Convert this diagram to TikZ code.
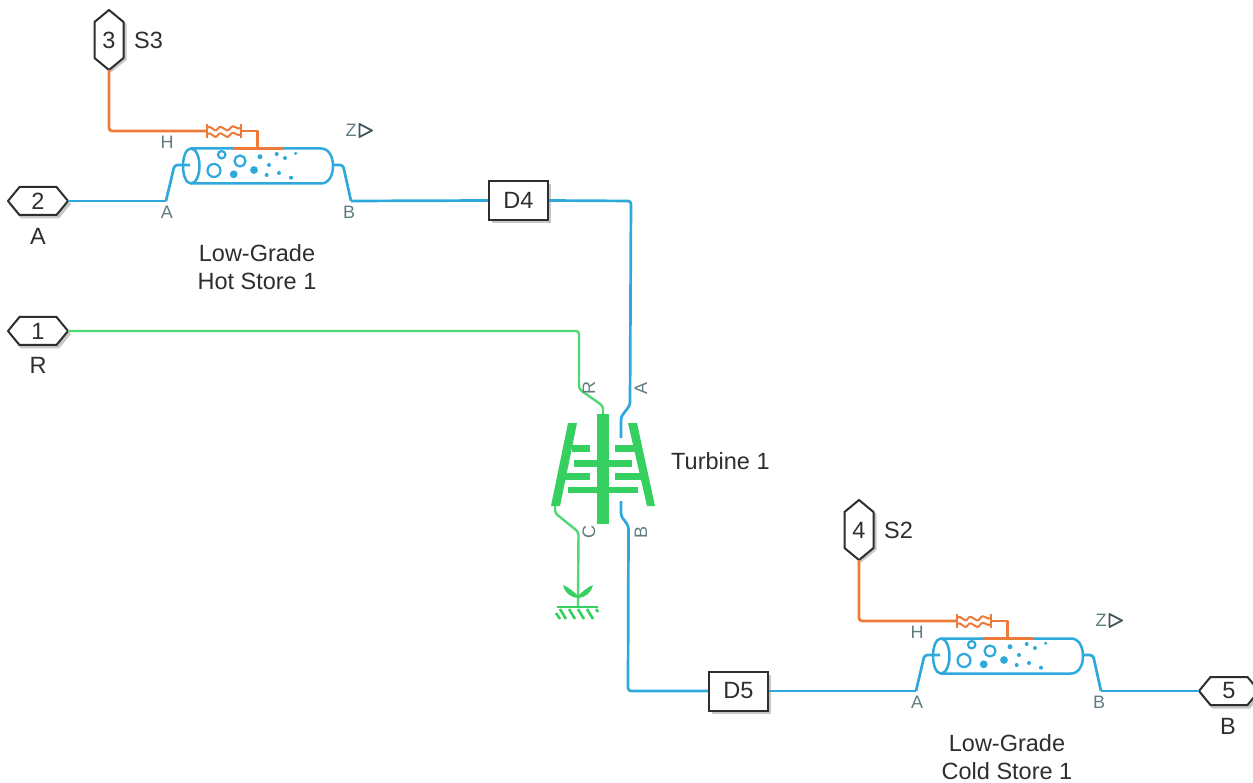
\documentclass[tikz,border=0pt]{standalone}
\usepackage{fontspec}
\setmainfont{Liberation Sans}
\usetikzlibrary{shadows}
\definecolor{bl}{HTML}{2FA9DC}
\definecolor{gr}{HTML}{35D05F}
\definecolor{grl}{HTML}{4FD873}
\definecolor{org}{HTML}{EE7A3A}
\definecolor{lab}{HTML}{5F7D80}
\definecolor{txt}{HTML}{2E2E2E}
\tikzset{
 wb/.style={bl,line width=2.7pt,line join=round,rounded corners=3pt},
 wg/.style={grl,line width=2.4pt,line join=round,rounded corners=3pt},
 wo/.style={org,line width=2.7pt,line join=round,rounded corners=3pt},
 lbl/.style={text=txt,font=\fontsize{23.5}{28}\selectfont,inner sep=0pt,align=center},
 plab/.style={text=lab,font=\fontsize{18}{20}\selectfont,inner sep=0pt},
 num/.style={text=txt,font=\fontsize{23.5}{28}\selectfont,inner sep=0pt},
 hexs/.style={draw=txt,fill=white,line width=2pt,line join=round},
 blockb/.style={draw=txt,fill=white,line width=2pt,minimum width=59pt,minimum height=39pt,inner sep=0pt,text=txt,font=\fontsize{23.5}{28}\selectfont,drop shadow={shadow xshift=3pt,shadow yshift=-3pt,fill=black!22,opacity=1}},
 blf/.style={bl,line width=2.5pt},
}
\newcommand{\hport}[3]{% name, center, number
 \begin{scope}[shift={(#2)}]
 \fill[black!22] (-29,3)--(-17,-11)--(21,-11)--(33,3)--(21,17.5)--(-17,17.5)--cycle;
 \draw[hexs] (-30,0)--(-18.5,-14)--(18.5,-14)--(30,0)--(18.5,14)--(-18.5,14)--cycle;
 \node[num] (#1) at (0,0) {#3};
 \coordinate (#1R) at (30,0); \coordinate (#1L) at (-30,0);
 \end{scope}}
\newcommand{\vport}[3]{%
 \begin{scope}[shift={(#2)}]
 \fill[black!22] (2,-28)--(17.5,-16)--(17.5,20)--(2,32.5)--(-12,20)--(-12,-16)--cycle;
 \draw[hexs] (0,-30)--(14.5,-18)--(14.5,18)--(0,30)--(-14.5,18)--(-14.5,-18)--cycle;
 \node[num] (#1) at (0,0) {#3};
 \coordinate (#1B) at (0,30);
 \end{scope}}
\newcommand{\store}[4]{% prefix, offset, line1, line2
 \begin{scope}[shift={(#2)}]
 \coordinate (#1A) at (166,201);
 \coordinate (#1B) at (351,201);
 \coordinate (#1H) at (207,131);
 % body
 \draw[blf,line cap=round] (233,148.5) -- (191,148.5)
   .. controls (186,148.5) and (183,157) .. (183,166)
   .. controls (183,175) and (186,183.5) .. (191,183.5)
   -- (321,183.5)
   .. controls (329,183.5) and (333,175) .. (333,166)
   .. controls (333,157) and (329,148.5) .. (321,148.5)
   -- (283,148.5);
 \draw[blf] (191,148.5) .. controls (196,148.5) and (199.5,157) .. (199.5,166)
   .. controls (199.5,175) and (196,183.5) .. (191,183.5);
 % bubbles
 \draw[bl,line width=2.2pt] (214,170.5) circle (6.5) (240,161) circle (5.5) (221.7,154.7) circle (3.7);
 \fill[bl] (233.7,174.3) circle (3.9) (254,170) circle (3.9) (260,156.7) circle (2.5) (276.7,154) circle (2) (285,158) circle (2) (295.7,153.3) circle (1.7) (269,165) circle (2) (279,173) circle (2) (266.7,175) circle (2) (291,177.7) circle (2);
 % thermal part
 \draw[org,line width=2.7pt] (233,148.5)--(283,148.5);
 \draw[org,line width=2.5pt,line join=round] (257.5,148.5)--(257.5,131)--(241,131);
 \draw[org,line width=2.3pt] (207,124)--(207,138) (241,124)--(241,138);
 \draw[org,line width=2pt] (207,128.5) .. controls (211,122.5) and (214,135) .. (218,128.5) .. controls (222,122.5) and (226,135) .. (230,128.5) .. controls (234,122.5) and (237,131) .. (241,128);
 \draw[org,line width=2pt] (207,135) .. controls (211,129) and (214,141.5) .. (218,135) .. controls (222,129) and (226,141.5) .. (230,135) .. controls (234,129) and (237,137.5) .. (241,134.5);
 % stubs
 \draw[wb] (#1A) -- (174.5,165) -- (190,165);
 \draw[wb] (334,165) -- (343,165) -- (#1B);
 % labels
 \node[plab] (#1lH) at (167,142) {H};
 \node[plab] (#1lA) at (167,212) {A};
 \node[plab] (#1lB) at (349,212) {B};
 \node[plab] (#1lZ) at (351,130.5) {Z};
 \draw[lab!70!black,line width=1.8pt,line join=round] (359.5,124) -- (372,130.5) -- (359.5,137) -- cycle;
 \node[lbl] (#1name) at (257,267.5) {#3\\#4};
 \end{scope}}
\begin{document}
\begin{tikzpicture}[x=1pt,y=-1pt]
\useasboundingbox (0,0) rectangle (1253,783);
\fill[white] (0,0) rectangle (1253,783);
% ports
\hport{pA}{38,201}{2}
\hport{pR}{38,331}{1}
\vport{pS}{109,40}{3}
\vport{pT}{859,530}{4}
\hport{pB}{1229,691}{5}
\node[lbl] (tA) at (38,236) {A};
\node[lbl] (tR) at (38,365) {R};
\node[lbl,anchor=west] (tS3) at (134,40) {S3};
\node[lbl,anchor=west] (tS2) at (884,530) {S2};
\node[lbl] (tBB) at (1228,726) {B};
% stores
\store{a}{0,0}{Low-Grade}{Hot Store 1}
\store{b}{750,490}{Low-Grade}{Cold Store 1}
% blocks
\node[blockb] (D4) at (518.5,200.5) {D4};
\node[blockb] (D5) at (738.5,691) {D5};
% turbine
\fill[gr] (597,414) rectangle (608.5,523.5);
\fill[gr] (568,423) -- (577,423) -- (560,506) -- (551,506) -- cycle;
\fill[gr] (628,423) -- (637,423) -- (655,506) -- (647,506) -- cycle;
\fill[gr] (572,445) rectangle (590,452);
\fill[gr] (563,473) rectangle (590,480);
\fill[gr] (574,460) rectangle (632,467);
\fill[gr] (568,487) rectangle (638,493);
\fill[gr] (615,445) rectangle (637,452);
\fill[gr] (615,473) rectangle (642,480);
\coordinate (tR1) at (603,414);
\coordinate (tC1) at (555,506);
\coordinate (tA1) at (621,438);
\coordinate (tB1) at (621,501);
\coordinate (gnd) at (578,607);
% connectors
\draw[wb] (pAR) -- (aA);
\draw[wb] (aB) -- (D4.west);
\draw[wb] (D4.east) -- (631,201) -- (630,405) -- (621,417) -- (tA1);
\draw[wb] (tB1) -- (621,516) -- (628.5,526) -- (628,691) -- (D5.west);
\draw[wb] (D5.east) -- (bA);
\draw[wb] (bB) -- (pBL);
\draw[wg] (pRR) -- (579,331) -- (579,389) -- (603,406) -- (tR1);
\draw[wg] (tC1) -- (555,513) -- (578.5,532) -- (gnd);
\draw[wo] (pSB) -- (109,131) -- (aH);
\draw[wo] (pTB) -- (859,621) -- (bH);
% ground
\draw[gr,line width=2.2pt] (557,607) -- (598,607);
\draw[gr,line width=2.6pt] (560,609)--(566,619) (569,609)--(575,619) (578,609)--(584,619) (587,609)--(593,619) (556,613)--(560,619) (596,609)--(598,612);
\fill[gr] (563,585) .. controls (564,592) and (571,598) .. (578,598) .. controls (585,598) and (592,592) .. (593,585) .. controls (588,587) and (583,591) .. (578,596) .. controls (573,591) and (568,587) .. (563,585) -- cycle;
% turbine labels
\node[plab,rotate=90] (lR) at (589,388) {R};
\node[plab,rotate=90] (lA) at (641,388) {A};
\node[plab,rotate=90] (lC) at (589,532) {C};
\node[plab,rotate=90] (lB) at (641,532) {B};
\node[lbl,anchor=west] (tn) at (671,461) {Turbine 1};
\end{tikzpicture}
\end{document}
